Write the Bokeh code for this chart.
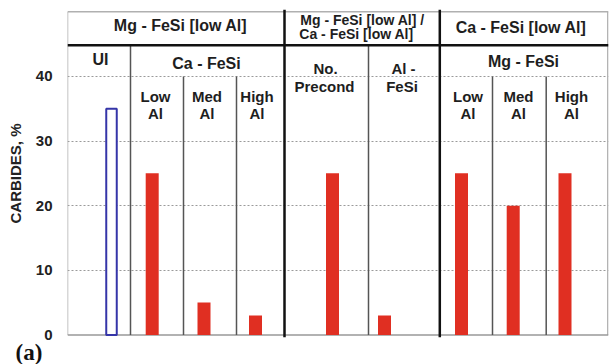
from bokeh.plotting import figure
from bokeh.models import ColumnDataSource, Range1d, FixedTicker, Title
from bokeh.core.properties import value
from bokeh.embed import file_html
from bokeh.resources import INLINE

# ---------------- data ----------------
categories = ["UI", "Ca-FeSi Low Al", "Ca-FeSi Med Al", "Ca-FeSi High Al",
              "No. Precond", "Al-FeSi", "Mg-FeSi Low Al", "Mg-FeSi Med Al", "Mg-FeSi High Al"]
carbides = [35, 25, 5, 3, 25, 3, 25, 20, 25]
y_ticks = [0, 10, 20, 30, 40]
y_label = "CARBIDES, %"

header_texts = ["Mg - FeSi [low Al]", "Ca - FeSi [low Al]"]
mid_header_texts = ["Mg - FeSi [low Al] /", "Ca - FeSi [low Al]"]
group_texts = ["UI", "Ca - FeSi", "Mg - FeSi"]
col_texts_top = ["No.", "Al -"]
col_texts_bot = ["Precond", "FeSi"]
sub_texts_top = ["Low", "Med", "High", "Low", "Med", "High"]
sub_texts_bot = ["Al", "Al", "Al", "Al", "Al", "Al"]
panel_label = "(a)"

# ---------------- layout (positions) ----------------
bar_x = [44, 84.7, 136.5, 188, 265, 317, 394, 445.7, 497.5]
X_END = 541
Y_TOP = 50
Y_HEAD = 44.8
Y_SUB = 40

FONT = value("Liberation Sans")
RED = "#e02f22"
BLUE = "#3535a8"

p = figure(width=611, height=364, output_backend="svg", toolbar_location=None,
           x_range=Range1d(0, X_END), y_range=Range1d(-0.4, 50.35),
           min_border_left=67, min_border_right=3, min_border_top=9, min_border_bottom=27)
p.outline_line_color = None
p.background_fill_color = "white"
p.xaxis.visible = False
p.xgrid.visible = False

p.ygrid.ticker = FixedTicker(ticks=y_ticks[1:])
p.ygrid.grid_line_color = "#9a9a9a"
p.ygrid.grid_line_dash = "2 2"
p.ygrid.grid_line_width = 1

ax = p.yaxis[0]
ax.ticker = FixedTicker(ticks=y_ticks)
ax.axis_line_color = None
ax.major_tick_line_color = None
ax.minor_tick_line_color = None
ax.major_label_text_font = "Liberation Sans"
ax.major_label_text_font_style = "bold"
ax.major_label_text_font_size = "15px"
ax.major_label_text_color = "#222222"
ax.major_label_standoff = 9
ax.axis_label = y_label
ax.axis_label_text_font = "Liberation Sans"
ax.axis_label_text_font_style = "bold"
ax.axis_label_text_font_size = "15px"
ax.axis_label_text_color = "#222222"
ax.axis_label_standoff = 9

# frame
p.segment(x0=[0, 0, X_END - 0.7], y0=[0, Y_TOP, 0], x1=[0, X_END, X_END - 0.7], y1=[Y_TOP, Y_TOP, Y_TOP],
          line_color="#b0b0b0", line_width=1.5)
p.segment(x0=[0], y0=[0], x1=[X_END], y1=[0], line_color="#999999", line_width=1.5)

# grey dividers
thin_x0 = [63, 116, 169, 301, 425, 478.7]
thin_top = [Y_HEAD, Y_SUB, Y_SUB, Y_HEAD, Y_SUB, Y_SUB]
p.segment(x0=thin_x0, y0=[0] * 6, x1=thin_x0, y1=thin_top, line_color="#555555", line_width=1.5)
# thick black dividers
p.segment(x0=[217, 372.3], y0=[-0.4, -0.4], x1=[217, 372.3], y1=[50.35, 50.35],
          line_color="#111111", line_width=2.5)
p.segment(x0=[0], y0=[Y_HEAD], x1=[X_END], y1=[Y_HEAD], line_color="#111111", line_width=2.5)

# bars
src_red = ColumnDataSource(dict(x=bar_x[1:], top=carbides[1:], cat=categories[1:]))
p.vbar(x="x", top="top", bottom=0, width=13, source=src_red, fill_color=RED, line_color=None)
src_ui = ColumnDataSource(dict(x=bar_x[:1], top=carbides[:1], cat=categories[:1]))
p.vbar(x="x", top="top", bottom=0, width=10.5, source=src_ui, fill_color="white",
       line_color=BLUE, line_width=2)

def txt(xs, ys, texts, size):
    src = ColumnDataSource(dict(x=xs, y=ys, t=texts))
    p.text(x="x", y="y", text="t", source=src, text_font=FONT, text_font_style="bold",
           text_font_size=size, text_align="center", text_baseline="middle", text_color="#1e1e1e")

txt([113, 453.5], [47.9, 47.6], header_texts, "16px")
txt([295, 289], [48.8, 46.5], mid_header_texts, "14px")
txt([33, 139, 456], [42.6, 42.0, 42.3], group_texts, "16px")
txt([258, 336], [41.2, 41.2], col_texts_top, "15px")
txt([257, 334.5], [38.4, 38.4], col_texts_bot, "15px")
sub_x = [88, 139.5, 189.5, 400.5, 451, 504]
txt(sub_x, [36.9] * 6, sub_texts_top, "15px")
txt(sub_x, [34.3] * 6, sub_texts_bot, "15px")

p.add_layout(Title(text=panel_label, align="left", offset=-52, standoff=0,
                   text_font="Liberation Serif", text_font_style="bold",
                   text_font_size="23px", text_color="#111111"), "below")

open("out.html", "w").write(file_html(p, INLINE))
